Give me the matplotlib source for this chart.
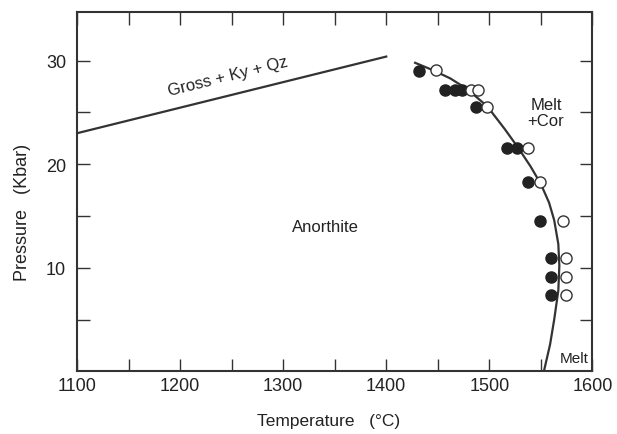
import matplotlib
matplotlib.use("Agg")
import matplotlib.pyplot as plt

plt.rcParams['font.family'] = ['Liberation Sans', 'DejaVu Sans']

# runs that stayed anorthite (filled) / melted (open)
T_solid = [1432, 1457, 1467, 1474, 1487, 1517, 1527, 1538, 1549, 1560, 1560, 1560]
P_solid = [29.0, 27.2, 27.2, 27.2, 25.5, 21.6, 21.6, 18.3, 14.5, 10.9, 9.1, 7.4]
T_melt = [1448, 1482, 1489, 1498, 1538, 1549, 1572, 1574, 1574, 1574]
P_melt = [29.1, 27.2, 27.2, 25.5, 21.6, 18.3, 14.5, 10.9, 9.1, 7.4]

# melting curve
T_curve = [1428, 1445, 1462, 1478, 1498, 1515, 1528, 1540, 1550, 1558, 1563, 1567, 1568, 1567, 1563, 1559, 1553]
P_curve = [29.8, 29.1, 28.3, 27.3, 25.6, 23.4, 21.6, 19.8, 18.1, 16.3, 14.6, 12.3, 10.2, 7.8, 5.0, 2.6, 0.0]

# Gross + Ky + Qz reaction line
T_gkq = [1100, 1400]
P_gkq = [23.0, 30.4]

fig = plt.figure(figsize=(6.17, 4.35), dpi=100)
ax = fig.add_axes([0.125, 0.144, 0.835, 0.826])

ax.plot(T_gkq, P_gkq, color='#333333', lw=1.6)
ax.plot(T_curve, P_curve, color='#333333', lw=1.6)
ax.plot(T_solid, P_solid, 'o', ms=8, mfc='#222222', mec='#222222', mew=1)
ax.plot(T_melt, P_melt, 'o', ms=8, mfc='white', mec='#333333', mew=1)

ax.set_xlim(1100, 1600)
ax.set_ylim(0, 34.7)
ax.set_xticks([1100, 1200, 1300, 1400, 1500, 1600])
ax.set_xticklabels(['1100', '1200', '1300', '1400', '1500', '1600'])
ax.set_xticks([1150, 1250, 1350, 1450, 1550], minor=True)
ax.set_yticks([10, 20, 30])
ax.set_yticks([5, 15, 25], minor=True)
ax.tick_params(which='both', direction='in', top=True, right=True,
               length=9, width=1, color='#333333', labelsize=13,
               labelcolor='#222222')
ax.tick_params(axis='x', pad=4)
ax.tick_params(axis='y', pad=8)

for s in ax.spines.values():
    s.set_linewidth(1.5)
    s.set_color('#333333')

ax.set_xlabel('Temperature   (°C)', fontsize=12.5, color='#222222')
ax.set_ylabel('Pressure   (Kbar)', fontsize=13, color='#222222')
ax.xaxis.set_label_coords(0.489, -0.115)
ax.yaxis.set_label_coords(-0.09, 0.445)

ax.text(1246, 28.5, 'Gross + Ky + Qz', rotation=14, fontsize=12,
        ha='center', va='center', color='#222222')
ax.text(1341, 14.0, 'Anorthite', fontsize=12, ha='center', va='center', color='#222222')
ax.text(1555, 25.0, 'Melt\n+Cor', fontsize=12, ha='center', va='center',
        linespacing=1.1, color='#222222')
ax.text(1582, 1.3, 'Melt', fontsize=11, ha='center', va='center', color='#222222')

fig.savefig('out.png', dpi=100)
